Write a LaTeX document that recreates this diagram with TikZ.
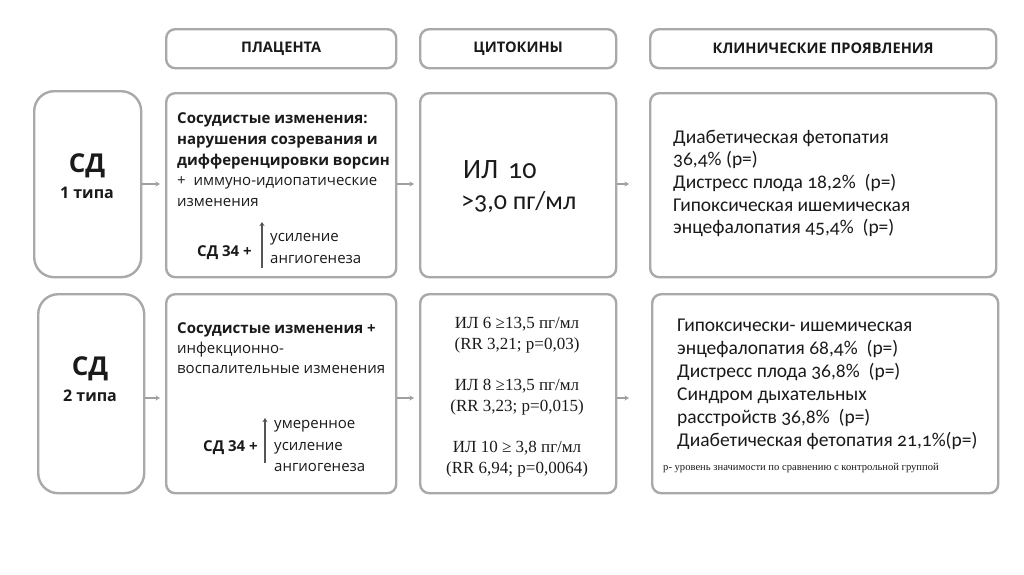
\documentclass[tikz,border=0pt]{standalone}
\usepackage{fontspec}
\setmainfont{Open Sans}
\newfontfamily\cand[Numbers=OldStyle]{Carlito}
\newfontfamily\tms{Liberation Serif}
\usetikzlibrary{arrows.meta}
\definecolor{bgray}{HTML}{A9A9A9}
\definecolor{agray}{HTML}{A0A0A0}
\definecolor{dgray}{HTML}{555555}
\definecolor{txt}{HTML}{1A1A1A}
\begin{document}
\begin{tikzpicture}[x=1pt,y=-1pt,
  box/.style={draw=bgray, line width=2.4pt, rounded corners=9pt, anchor=north west, inner sep=0pt},
  sdbox/.style={box, rounded corners=20pt},
  arr/.style={draw=agray, line width=1.5pt, -{Stealth[length=4.5pt,width=5pt]}, shorten >=5pt},
  up/.style={draw=dgray, line width=2.6pt, -{Stealth[length=4pt,width=5pt]}},
  hdr/.style={font=\bfseries\fontsize{14.6}{16}\selectfont, text=txt, inner sep=0pt},
  sdl/.style={font=\bfseries\fontsize{26}{28}\selectfont, text=txt, inner sep=0pt, anchor=base},
  sdt/.style={font=\bfseries\fontsize{16}{18}\selectfont, text=txt, inner sep=0pt, anchor=base},
  pb/.style={font=\bfseries\fontsize{15}{17}\selectfont, text=txt, inner sep=0pt, anchor=base west},
  pr/.style={font=\fontsize{15}{17}\selectfont, text=txt, inner sep=0pt, anchor=base west},
  cyb/.style={font=\cand\fontsize{26}{28}\selectfont, text=txt, inner sep=0pt, anchor=base west},
  cyt/.style={font=\tms\fontsize{17}{19}\selectfont, text=txt, inner sep=0pt, anchor=base},
  cl/.style={font=\cand\fontsize{19.5}{21}\selectfont, text=txt, inner sep=0pt, anchor=base west},
  fn/.style={font=\tms\fontsize{10.6}{12}\selectfont, text=txt, inner sep=0pt, anchor=base west}]
\useasboundingbox[fill=white] (0,0) rectangle (1024,574);

% headers
\node[box, minimum width=230pt, minimum height=39pt] (hpl) at (165,28) {};
\node[box, minimum width=196pt, minimum height=39pt] (hcy) at (419,28) {};
\node[box, minimum width=346pt, minimum height=39pt] (hcl) at (649,28) {};
\node[hdr] (thpl) at (hpl.center) {ПЛАЦЕНТА};
\node[hdr] (thcy) at (hcy.center) {ЦИТОКИНЫ};
\node[hdr] (thcl) at (hcl.center) {КЛИНИЧЕСКИЕ ПРОЯВЛЕНИЯ};

% row 1 boxes
\node[sdbox, minimum width=107pt, minimum height=186pt] (sd1) at (33,90) {};
\node[box, minimum width=230pt, minimum height=184pt] (pl1) at (165,92) {};
\node[box, minimum width=196pt, minimum height=184pt] (cy1) at (419,92) {};
\node[box, minimum width=346pt, minimum height=184pt] (cl1) at (649,92) {};

% row 2 boxes
\node[sdbox, minimum width=106pt, minimum height=199pt] (sd2) at (37,293) {};
\node[box, minimum width=230pt, minimum height=199pt] (pl2) at (165,293) {};
\node[box, minimum width=196pt, minimum height=199pt] (cy2) at (419,293) {};
\node[box, minimum width=346pt, minimum height=199pt] (cl2) at (651,293) {};

% arrows
\coordinate (r1) at (0,184);
\coordinate (r2) at (0,398);
\draw[arr] (sd1.east |- r1) -- (pl1.west |- r1);
\draw[arr] (pl1.east |- r1) -- (cy1.west |- r1);
\draw[arr] (cy1.east |- r1) -- ([xshift=-15pt]cl1.west |- r1);
\draw[arr] (sd2.east |- r2) -- (pl2.west |- r2);
\draw[arr] (pl2.east |- r2) -- (cy2.west |- r2);
\draw[arr] (cy2.east |- r2) -- ([xshift=-17pt]cl2.west |- r2);

% SD labels
\node[sdl] (sd1a) at (87,172) {СД};
\node[sdt] (sd1b) at (87,198) {1 типа};
\node[sdl] (sd2a) at (90,375) {СД};
\node[sdt] (sd2b) at (90,401) {2 типа};

% placenta row 1
\node[pb] (p11) at (177,123) {Сосудистые изменения:};
\node[pb] (p12) at (177,144) {нарушения созревания и};
\node[pb] (p13) at (177,165) {дифференцировки ворсин};
\node[pr] (p14) at (177,185) {+\ \ иммуно-идиопатические};
\node[pr] (p15) at (177,206) {изменения};
\node[pb] (p16) at (197,256) {СД 34 +};
\coordinate (u1a) at (262,268);
\coordinate (u1b) at (262,222);
\draw[up] (u1a) -- (u1b);
\node[pr] (p17) at (270,241) {усиление};
\node[pr] (p18) at (270,263) {ангиогенеза};

% placenta row 2
\node[pb] (p21) at (177,333) {Сосудистые изменения +};
\node[pr] (p22) at (177,353) {инфекционно-};
\node[pr] (p23) at (177,373) {воспалительные изменения};
\node[pb] (p24) at (203,451) {СД 34 +};
\coordinate (u2a) at (265,463);
\coordinate (u2b) at (265,418);
\draw[up] (u2a) -- (u2b);
\node[pr] (p25) at (274,428) {умеренное};
\node[pr] (p26) at (274,450) {усиление};
\node[pr] (p27) at (274,471) {ангиогенеза};

% cytokines row 1
\node[cyb, font=\cand\fontsize{28}{30}\selectfont] (c11) at (463,178) {ИЛ\hspace{0.35em}10};
\node[cyb] (c12) at (461,209) {>3,0 пг/мл};

% cytokines row 2
\node[cyt] (c21) at (517,328) {ИЛ 6 ≥13,5 пг/мл};
\node[cyt] (c22) at (517,349) {(RR 3,21; p=0,03)};
\node[cyt] (c23) at (517,390) {ИЛ 8 ≥13,5 пг/мл};
\node[cyt] (c24) at (517,411) {(RR 3,23; p=0,015)};
\node[cyt] (c25) at (517,452) {ИЛ 10 ≥ 3,8 пг/мл};
\node[cyt] (c26) at (517,473) {(RR 6,94; p=0,0064)};

% clinical row 1
\node[cl] (k11) at (673,143) {Диабетическая фетопатия};
\node[cl] (k12) at (673,165) {36,4\% (р=)};
\node[cl] (k13) at (673,188) {Дистресс плода 18,2\%\ \ (р=)};
\node[cl] (k14) at (673,211) {Гипоксическая ишемическая};
\node[cl] (k15) at (673,233) {энцефалопатия 45,4\%\ \ (р=)};

% clinical row 2
\node[cl] (k21) at (677,331) {Гипоксически- ишемическая};
\node[cl] (k22) at (677,354) {энцефалопатия 68,4\%\ \ (р=)};
\node[cl] (k23) at (677,377) {Дистресс плода 36,8\%\ \ (р=)};
\node[cl] (k24) at (677,400) {Синдром дыхательных};
\node[cl] (k25) at (677,423) {расстройств 36,8\%\ \ (р=)};
\node[cl] (k26) at (677,446) {Диабетическая фетопатия 21,1\%(р=)};
\node[fn] (k27) at (663,470) {р- уровень значимости по сравнению с контрольной группой};
\end{tikzpicture}
\end{document}
